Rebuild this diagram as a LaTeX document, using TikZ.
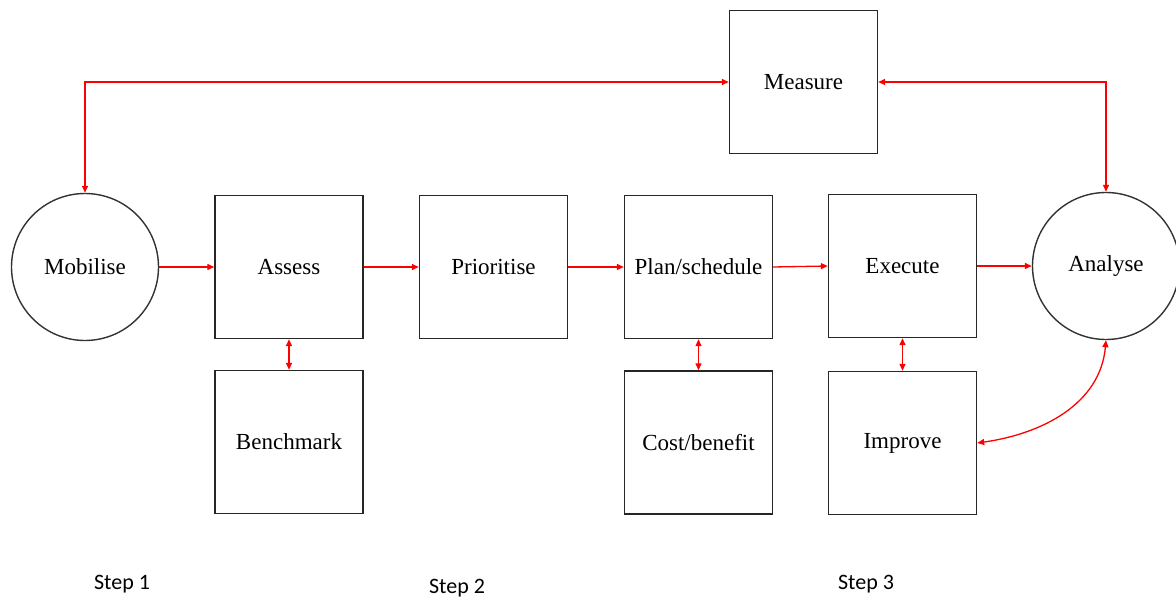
\documentclass[tikz,border=0pt]{standalone}
\usepackage{fontspec}
\setmainfont{Liberation Serif}
\newfontfamily\stepfont{Carlito}
\usetikzlibrary{arrows.meta}
\begin{document}
\begin{tikzpicture}[x=1pt,y=-1pt,
  box/.style={draw=black!85, line width=1.4pt, minimum width=148pt, minimum height=143pt,
    inner sep=0pt, font=\fontsize{23}{26}\selectfont},
  disc/.style={draw=black!80, line width=1.4pt, circle, minimum size=147pt,
    inner sep=0pt, font=\fontsize{23}{26}\selectfont},
  link/.style={draw=red, line width=1.3pt, -{Triangle[length=7pt,width=6pt]}},
  both/.style={draw=red, line width=1.3pt, {Triangle[length=7pt,width=6pt]}-{Triangle[length=7pt,width=6pt]}},
  steplabel/.style={font=\stepfont\fontsize{22}{26}\selectfont, inner sep=0pt}
]
\useasboundingbox (0,0) rectangle (1176,599);

% circles
\node[disc] (mob) at (85,267) {Mobilise};
\node[disc] (ana) at (1106,266) {Analyse};

% boxes
\node[box] (meas) at (803.5,82) {Measure};
\node[box] (ass) at (289,267) {Assess};
\node[box] (bench) at (289,442) {Benchmark};
\node[box] (prio) at (493.5,267) {Prioritise};
\node[box] (plan) at (698.5,267) {Plan/schedule};
\node[box] (cost) at (698.5,442.5) {Cost/benefit};
\node[box] (exe) at (902.5,266) {Execute};
\node[box] (imp) at (902.5,443) {Improve};

% main flow
\draw[link] (mob.east) -- (ass.west);
\draw[link] (ass.east) -- (prio.west);
\draw[link] (prio.east) -- (plan.west);
\draw[link] (plan.east) -- (exe.west);
\draw[link] (exe.east) -- (ana.west);

% two-way links
\draw[both] (ass.south) -- (bench.north);
\draw[both] (plan.south) -- (cost.north);
\draw[both] (exe.south) -- (imp.north);
\draw[both] (mob.north) |- (meas.west);
\draw[both] (meas.east) -| (ana.north);
\draw[both] (ana.south) to[out=-95,in=8] (imp.east);

% step labels
\node[steplabel] (s1) at (122,584) {Step 1};
\node[steplabel] (s2) at (457,588) {Step 2};
\node[steplabel] (s3) at (866,584) {Step 3};
\end{tikzpicture}
\end{document}
